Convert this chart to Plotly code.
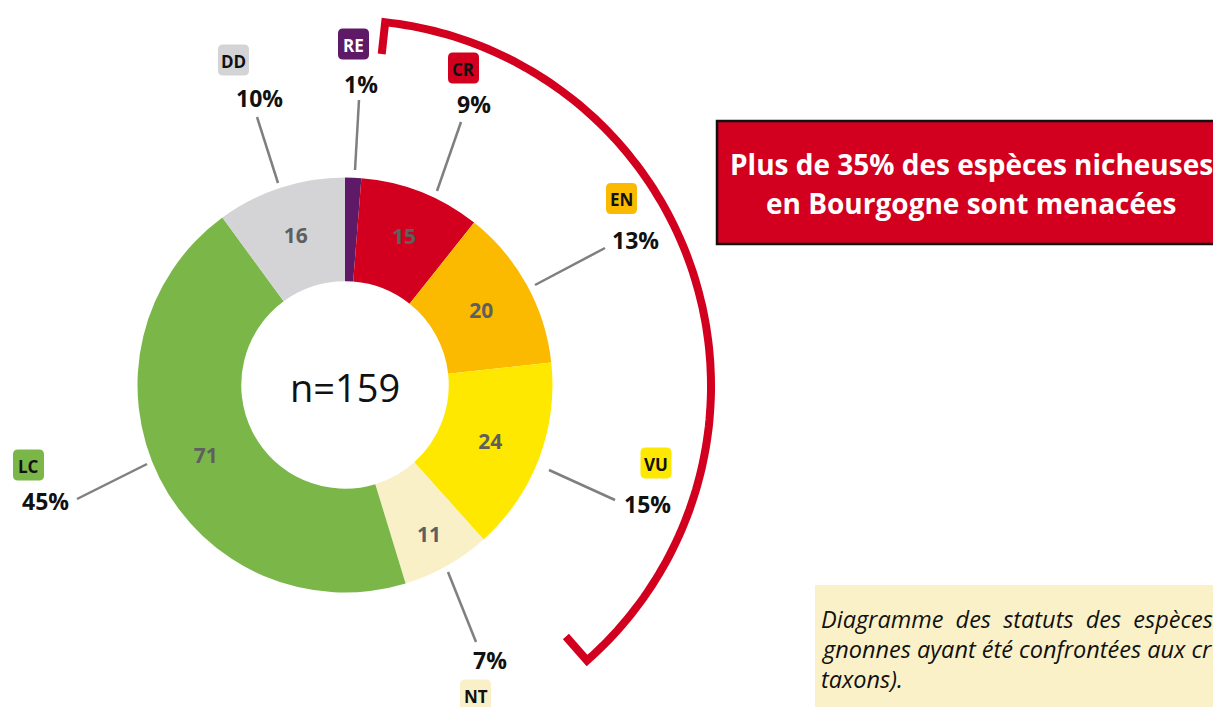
import numpy as np
import plotly.graph_objects as go

# ---------------- data ----------------
categories = ["RE", "CR", "EN", "VU", "NT", "LC", "DD"]
counts = [2, 15, 20, 24, 11, 71, 16]
total_label = "n=159"
headline = ["Plus de 35% des espèces nicheuses", "en Bourgogne sont menacées"]
caption = ["Diagramme des statuts des espèces",
           "gnonnes ayant été confrontées aux cr",
           "taxons)."]

# ---------------- styles ----------------
colors = {"RE": "#5E1A66", "CR": "#D2001E", "EN": "#FBBA00", "VU": "#FFE800",
          "NT": "#FAF0C8", "LC": "#7AB648", "DD": "#D4D4D6"}
badge_text_color = {"RE": "white"}
W, H = 1213, 707
FONT = "Open Sans"
RED = "#D2001E"

# pie geometry (pixels)
cx, cy, R = 345, 385, 207.5

# label layout (pixels): badge centre, percent centre, leader line (outer -> inner)
label_layout = {
    "DD": dict(badge=(233.5, 60), pct=(259, 98), line=((257, 117), (278, 183))),
    "RE": dict(badge=(353.5, 44), pct=(361, 84), line=((359, 100), (355, 170))),
    "CR": dict(badge=(463.5, 68), pct=(474, 104), line=((461, 122), (437, 191))),
    "EN": dict(badge=(621.5, 198.5), pct=(635, 240), line=((605, 248), (535, 285))),
    "VU": dict(badge=(656, 463), pct=(647, 504), line=((615, 500), (549, 470))),
    "NT": dict(badge=(475.5, 695), pct=(490, 660), line=((476, 642), (448, 572))),
    "LC": dict(badge=(28.5, 465), pct=(45.5, 501), line=((77, 499), (147, 464))),
}

total = sum(counts)
pcts = [f"{round(100 * c / total)}%" for c in counts]
inside_text = ["" if c == "RE" else str(v) for c, v in zip(categories, counts)]

fig = go.Figure()

fig.add_trace(go.Pie(
    labels=categories, values=counts, sort=False, direction="clockwise", rotation=0,
    hole=0.5, marker=dict(colors=[colors[c] for c in categories], line=dict(width=0)),
    text=inside_text, textinfo="text", textposition="inside",
    insidetextorientation="horizontal",
    insidetextfont=dict(family=FONT, size=21, color="#5f5f5f", weight="bold"),
    domain=dict(x=[(cx - R) / W, (cx + R) / W],
                y=[(H - cy - R) / H, (H - cy + R) / H]),
    showlegend=False, hoverinfo="label+value+percent",
))

# invisible pixel axes for shapes
fig.update_xaxes(range=[0, W], visible=False, fixedrange=True)
fig.update_yaxes(range=[H, 0], visible=False, fixedrange=True)
fig.add_trace(go.Scatter(x=[0], y=[0], mode="markers", marker=dict(opacity=0),
                         showlegend=False, hoverinfo="skip"))

shapes = []
annotations = []


def rounded_rect(x, y, w, h, r):
    x0, x1, y0, y1 = x - w / 2, x + w / 2, y - h / 2, y + h / 2
    return (f"M{x0 + r},{y0} L{x1 - r},{y0} Q{x1},{y0} {x1},{y0 + r} "
            f"L{x1},{y1 - r} Q{x1},{y1} {x1 - r},{y1} L{x0 + r},{y1} "
            f"Q{x0},{y1} {x0},{y1 - r} L{x0},{y0 + r} Q{x0},{y0} {x0 + r},{y0} Z")


for cat, p in zip(categories, pcts):
    lay = label_layout[cat]
    (lx0, ly0), (lx1, ly1) = lay["line"]
    shapes.append(dict(type="line", xref="x", yref="y", x0=lx0, y0=ly0, x1=lx1, y1=ly1,
                       line=dict(color="#7f7f7f", width=2.5)))
    bx, by = lay["badge"]
    shapes.append(dict(type="path", xref="x", yref="y", path=rounded_rect(bx, by, 31, 31, 5),
                       fillcolor=colors[cat], line=dict(width=0)))
    annotations.append(dict(x=bx, y=by + 1, xref="x", yref="y", text=f"<b>{cat}</b>",
                            showarrow=False, xanchor="center", yanchor="middle",
                            font=dict(family=FONT, size=17,
                                      color=badge_text_color.get(cat, "#111111"))))
    px, py = lay["pct"]
    annotations.append(dict(x=px, y=py, xref="x", yref="y", text=f"<b>{p}</b>",
                            showarrow=False, xanchor="center", yanchor="middle",
                            font=dict(family=FONT, size=23, color="#111111")))

# centre label
annotations.append(dict(x=cx, y=cy + 2, xref="x", yref="y", text=total_label, showarrow=False,
                        xanchor="center", yanchor="middle",
                        font=dict(family=FONT, size=38, color="#111111")))

# red bracket arc around threatened categories
acx, acy, AR = 345, 386, 366
a0, a1 = np.radians(6.3), np.radians(138.6)
tick = 32
ang = np.linspace(a0, a1, 120)
pts = [(acx + (AR - tick) * np.sin(a0), acy - (AR - tick) * np.cos(a0))]
pts += [(acx + AR * np.sin(a), acy - AR * np.cos(a)) for a in ang]
pts += [(acx + (AR - tick) * np.sin(a1), acy - (AR - tick) * np.cos(a1))]
path = "M" + " L".join(f"{x:.1f},{y:.1f}" for x, y in pts)
shapes.append(dict(type="path", xref="x", yref="y", path=path,
                   line=dict(color=RED, width=8)))

# headline box
shapes.append(dict(type="rect", xref="x", yref="y", x0=717, y0=121, x1=1232, y1=244,
                   fillcolor=RED, line=dict(color="#111111", width=2.5)))
for i, t in enumerate(headline):
    annotations.append(dict(x=971, y=164 + 39 * i, xref="x", yref="y", text=f"<b>{t}</b>",
                            showarrow=False, xanchor="center", yanchor="middle",
                            font=dict(family=FONT, size=28, color="white")))

# caption box
shapes.append(dict(type="rect", xref="x", yref="y", x0=815, y0=585, x1=1240, y1=720,
                   fillcolor="#FBF1C9", line=dict(width=0)))
cap_lines = [caption[0].replace(" ", "\u00a0\u00a0"), caption[1], caption[2]]
for i, t in enumerate(cap_lines):
    annotations.append(dict(x=819, y=619 + 30 * i, xref="x", yref="y", text=f"<i>{t}</i>",
                            showarrow=False, xanchor="left", yanchor="middle",
                            font=dict(family=FONT, size=23.5, color="#111111")))

fig.update_layout(
    width=W, height=H, margin=dict(l=0, r=0, t=0, b=0),
    paper_bgcolor="white", plot_bgcolor="rgba(0,0,0,0)",
    xaxis=dict(domain=[0, 1]), yaxis=dict(domain=[0, 1]),
    shapes=shapes, annotations=annotations,
)

fig.write_html("out.html")
